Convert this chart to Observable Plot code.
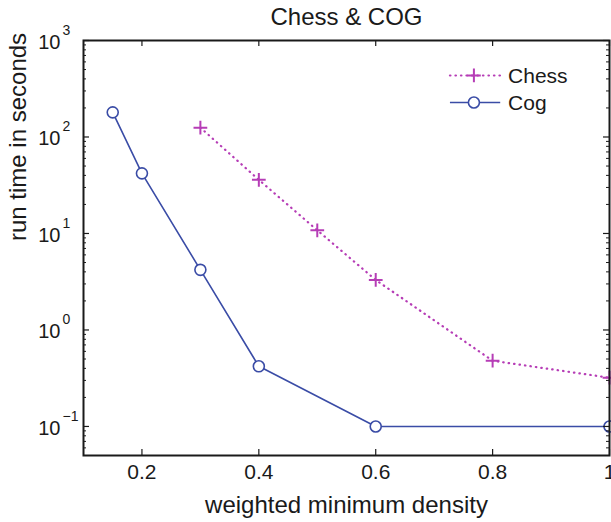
<!DOCTYPE html>
<html>
<head>
<meta charset="utf-8">
<script src="https://cdn.jsdelivr.net/npm/d3@7"></script>
<script src="https://cdn.jsdelivr.net/npm/@observablehq/plot@0.6"></script>
<style>
  html, body { margin: 0; padding: 0; background: #fff; }
  #chart svg { display: block; }
</style>
</head>
<body>
<div id="chart"></div>
<script>
// ---- data ----
const chessX = [0.3, 0.4, 0.5, 0.6, 0.8, 1.0];
const chessY = [125, 36, 10.8, 3.3, 0.48, 0.32];
const cogX = [0.15, 0.2, 0.3, 0.4, 0.6, 1.0];
const cogY = [180, 42, 4.2, 0.42, 0.1, 0.1];
const xTicks = [0.2, 0.4, 0.6, 0.8, 1];
const xTickLabels = ["0.2", "0.4", "0.6", "0.8", "1"];
const yTicks = [0.1, 1, 10, 100, 1000];
const yExponents = ["\u22121", "0", "1", "2", "3"];
const seriesNames = ["Chess", "Cog"];
const titleText = "Chess & COG";
const xLabel = "weighted minimum density";
const yLabel = "run time in seconds";

// ---- layout / style ----
const W = 611, H = 522;
const mL = 83, mR = 2, mT = 40, mB = 67;
const plotW = W - mL - mR, plotH = H - mT - mB;
const chessColor = "#b63db6";
const cogColor = "#3a4ca6";
const ink = "#1a1a1a";

const chess = chessX.map((x, i) => ({x, y: chessY[i]}));
const cog = cogX.map((x, i) => ({x, y: cogY[i]}));
const yMinor = [];
for (let e = -2; e <= 2; e++) for (let m = 2; m <= 9; m++) {
  const v = m * Math.pow(10, e);
  if (v >= 0.05 && v < 1000) yMinor.push(+v.toPrecision(3));
}
const xLab = xTicks.map((x, i) => ({x, t: xTickLabels[i]}));
const yLab = yTicks.map((y, i) => ({y, e: yExponents[i]}));

// legend placement (data-space anchors inside the frame)
const legX1 = 0.727, legX2 = 0.813, legXm = 0.768, legXt = 0.8265;
const legChess = [{name: seriesNames[0], y: 434}];
const legCog = [{name: seriesNames[1], y: 228}];

const chart = Plot.plot({
  width: W, height: H,
  marginLeft: mL, marginRight: mR, marginTop: mT, marginBottom: mB,
  x: {domain: [0.1, 1], axis: null},
  y: {type: "log", domain: [0.05, 1000], axis: null},
  style: {fontFamily: "'Liberation Sans', Arial, Helvetica, sans-serif", background: "white", color: ink},
  marks: [
    // series
    Plot.line(chess, {x: "x", y: "y", stroke: chessColor, strokeWidth: 2.2, strokeDasharray: "0.5,5", strokeLinecap: "round"}),
    Plot.dot(chess, {x: "x", y: "y", symbol: "plus", stroke: chessColor, strokeWidth: 2, r: 4.5}),
    Plot.line(cog, {x: "x", y: "y", stroke: cogColor, strokeWidth: 1.6}),
    Plot.dot(cog, {x: "x", y: "y", symbol: "circle", stroke: cogColor, fill: "white", strokeWidth: 1.6, r: 5.5}),
    // ticks (inward)
    Plot.tickX(xTicks, {x: d => d, stroke: ink, strokeWidth: 1.2, insetTop: plotH - 6}),
    Plot.tickX(xTicks, {x: d => d, stroke: ink, strokeWidth: 1.2, insetBottom: plotH - 6}),
    Plot.tickY(yTicks, {y: d => d, stroke: ink, strokeWidth: 1.2, insetRight: plotW - 6}),
    Plot.tickY(yTicks, {y: d => d, stroke: ink, strokeWidth: 1.2, insetLeft: plotW - 6}),
    Plot.tickY(yMinor, {y: d => d, stroke: ink, strokeWidth: 1, insetRight: plotW - 3}),
    Plot.tickY(yMinor, {y: d => d, stroke: ink, strokeWidth: 1, insetLeft: plotW - 3}),
    Plot.frame({stroke: ink, strokeWidth: 2}),
    // tick labels
    Plot.text(xLab, {x: "x", text: "t", frameAnchor: "bottom", lineAnchor: "top", dy: 9, fontSize: 21, fill: ink}),
    Plot.text(yLab, {y: "y", text: () => "10", frameAnchor: "left", textAnchor: "end", dx: -23, dy: 2, fontSize: 20, fill: ink}),
    Plot.text(yLab, {y: "y", text: "e", frameAnchor: "left", textAnchor: "start", dx: -21, dy: -10, fontSize: 14, fill: ink}),
    // legend
    Plot.link(legChess, {x1: () => legX1, x2: () => legX2, y1: "y", y2: "y", stroke: chessColor, strokeWidth: 2.2, strokeDasharray: "0.5,5", strokeLinecap: "round"}),
    Plot.dot(legChess, {x: () => legXm, y: "y", symbol: "plus", stroke: chessColor, strokeWidth: 2, r: 4.5}),
    Plot.link(legCog, {x1: () => legX1, x2: () => legX2, y1: "y", y2: "y", stroke: cogColor, strokeWidth: 1.6}),
    Plot.dot(legCog, {x: () => legXm, y: "y", symbol: "circle", stroke: cogColor, fill: "white", strokeWidth: 1.6, r: 5.5}),
    Plot.text(legChess.concat(legCog), {x: () => legXt, y: "y", text: "name", textAnchor: "start", fontSize: 21, fill: ink, dy: 1}),
    // title and axis labels
    Plot.text([titleText], {text: d => d, frameAnchor: "top", lineAnchor: "bottom", dy: -16, fontSize: 24, fill: ink}),
    Plot.text([xLabel], {text: d => d, frameAnchor: "bottom", lineAnchor: "bottom", dy: 57, fontSize: 24, fill: ink}),
    Plot.text([yLabel], {text: d => d, frameAnchor: "left", lineAnchor: "bottom", rotate: -90, dx: -58, dy: -7, fontSize: 24, fill: ink})
  ]
});
document.getElementById("chart").appendChild(chart);
</script>
</body>
</html>
